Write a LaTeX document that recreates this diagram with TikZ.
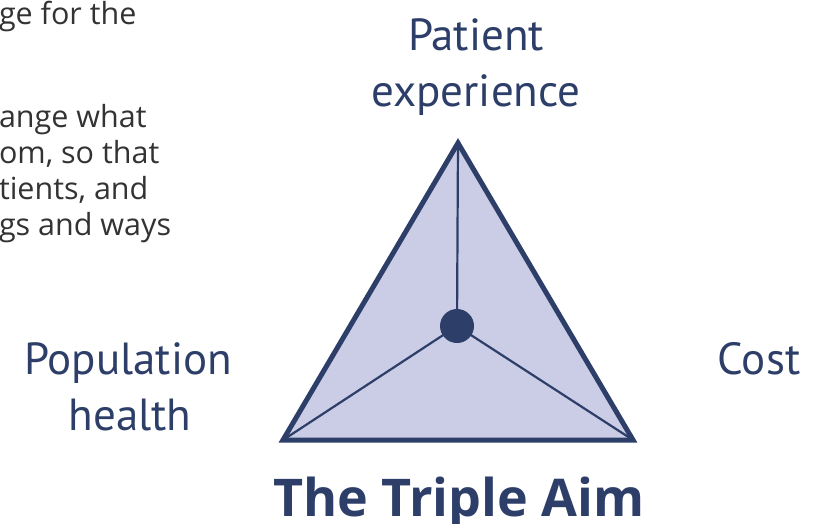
\documentclass[tikz,border=0pt]{standalone}
\usepackage{fontspec}
\setmainfont{PT Sans}
\newfontfamily\titlefont{Open Sans}
\begin{document}
\begin{tikzpicture}[x=1pt,y=-1pt,
  every node/.style={inner sep=0pt,outer sep=0pt},
  bodytext/.style={anchor=base west,text=bodygray,font=\titlefont\fontsize{30.5}{34}\selectfont},
  aimlabel/.style={text=navy,font=\fontsize{45}{50}\selectfont},
  spoke/.style={draw=navy,line width=2.2pt}]
\definecolor{navy}{HTML}{2D3F69}
\definecolor{lavender}{HTML}{CBCCE5}
\definecolor{bodygray}{HTML}{333333}
\useasboundingbox (0,0) rectangle (825,523);

% running text at the left
\node[bodytext] (t1) at (-1,24) {ge for the};
\node[bodytext] (t2) at (-1,127) {ange what};
\node[bodytext] (t3) at (-1,163) {om, so that};
\node[bodytext] (t4) at (-1,199) {tients, and};
\node[bodytext] (t5) at (-1,235) {gs and ways};

% the triangle
\coordinate (top) at (458,143);
\coordinate (bl) at (283,440);
\coordinate (br) at (633,440);
\coordinate (mid) at (457,326);
\fill[lavender] (top) -- (bl) -- (br) -- cycle;
\draw[spoke] (top) -- (mid);
\draw[spoke] (bl) -- (mid);
\draw[spoke] (br) -- (mid);
\draw[navy,line width=5pt,line join=miter] (top) -- (bl) -- (br) -- cycle;
\fill[navy] (mid) circle[radius=17];

% the three aims
\node[aimlabel,anchor=base] (pe1) at (476,50) {Patient};
\node[aimlabel,anchor=base] (pe2) at (476,106) {experience};
\node[aimlabel,anchor=base] (ph1) at (128,374) {Population};
\node[aimlabel,anchor=base] (ph2) at (130,430) {health};
\node[aimlabel,anchor=base] (cost) at (759,374) {Cost};

% title
\node[anchor=base,text=navy,font=\titlefont\bfseries\fontsize{52}{56}\selectfont] (title) at (459,516) {The Triple Aim};
\end{tikzpicture}
\end{document}
